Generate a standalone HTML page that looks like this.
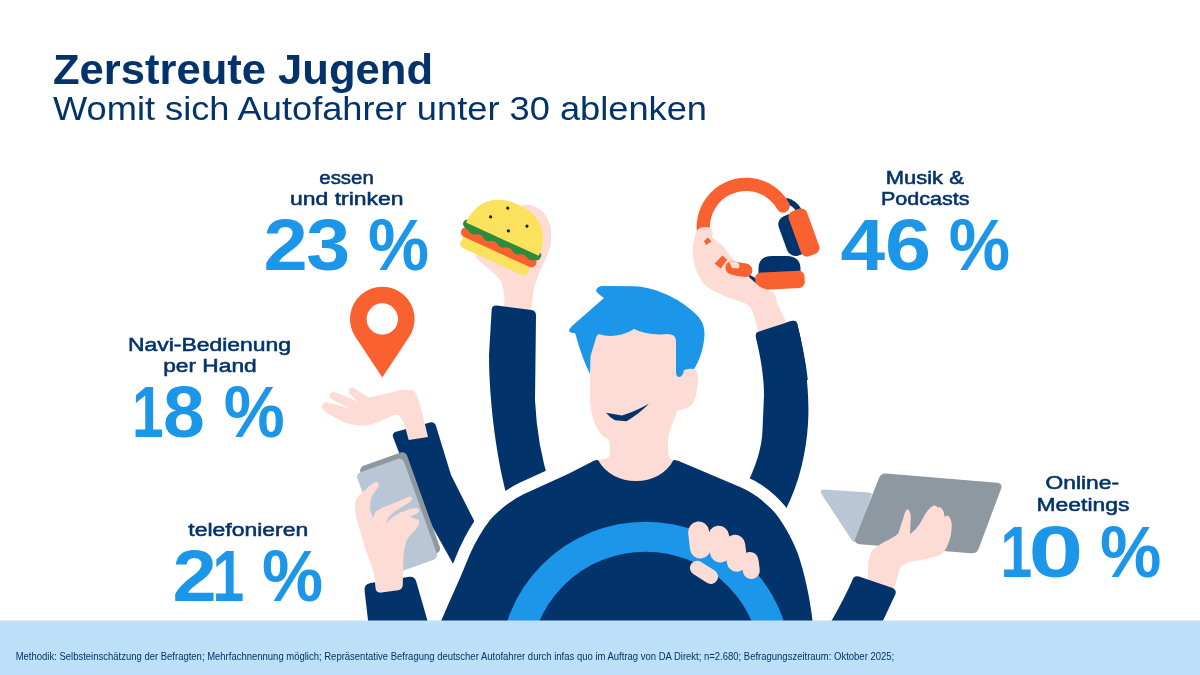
<!DOCTYPE html>
<html lang="de">
<head>
<meta charset="utf-8">
<title>Zerstreute Jugend</title>
<style>
  html, body { margin: 0; padding: 0; background: #ffffff; }
  body { width: 1200px; height: 675px; overflow: hidden; position: relative; font-family: "Liberation Sans", sans-serif; }
  svg { position: absolute; left: 0; top: 0; display: block; }
  text { font-family: "Liberation Sans", sans-serif; }
  .navy { fill: #02336a; }
  .blue { fill: #1c96e9; }
  .skin { fill: #fcdcd5; }
  .orange { fill: #f96230; }
  .t-title { font-weight: 700; font-size: 42px; fill: #02336a; }
  .t-sub { font-weight: 400; font-size: 33.5px; fill: #02336a; }
  .t-label { font-weight: 400; font-size: 18.8px; fill: #02336a; stroke: #02336a; stroke-width: 0.55px; }
  .t-num { font-weight: 700; font-size: 73px; fill: #1c96e9; }
  .t-foot { font-weight: 400; font-size: 10.4px; fill: #02336a; }
</style>
</head>
<body>
<svg width="1200" height="675" viewBox="0 0 1200 675">
  <rect x="0" y="0" width="1200" height="675" fill="#ffffff"/>

  <!-- ===== ILLUSTRATION ===== -->
  <g id="illustration">

    <!-- arms behind torso -->
    <!-- burger hand -->
    <path class="skin" d="M504,316 L504.5,300 Q504,284 498,277 L476,258 Q474,254 480,252 L500,230 L520,206 Q526,203 534,206 Q548,212 551,230 Q552,245 547,256 Q538,274 534,288 L530,316 Z"/>
    <!-- burger arm -->
    <path class="navy" d="M491.6,311 Q491.4,305 497,305.6 L531.5,310.1 Q536,310.8 536,315.5 L535,400 Q537,445 550,485 L508,500 C497,462 489,402 489,355 Z"/>
    <!-- headphone arm -->
    <path class="navy" d="M756,337.5 Q755,333 759,331.6 L791.5,321 Q796,319.8 797.3,324 C805,355 810,392 808,424 C806,455 798,490 780,520 L745,489 C756,466 762,448 762.5,430 L764,395 C764,375 760,355 756,337.5 Z"/>
    <!-- navi arm -->
    <path class="navy" d="M393,437 Q392,433 396,431.8 L430,422.4 Q434.5,421.5 436,426 L451,475 L500,572 L472,598 L432,526 L400,455 Z"/>
    <!-- phone arm -->
    <path class="navy" d="M364.6,591 Q363.8,584.2 370.5,583 L409.5,576.8 Q414.8,576.2 416.2,581.5 L427.3,620 L430,630 L369,630 L368,620 Z"/>

    <!-- torso with white outline -->
    <path d="M429,650 L441.5,620 L448,605 L460,578 L470,554 C476,541 482,530 490,520 C498,511 510,501 524,494 L568,474 L593,461.3 Q597.5,459 601,461 L670,461 Q674,459 678,460.8 L700,470 L740,487 C752,492 766,502 776,514 C786,527 794,543 798,554 C804,572 810,596 813,625 L814,650 Z"
          fill="#02336a" stroke="#ffffff" stroke-width="24" stroke-linejoin="round" paint-order="stroke"/>

    <!-- steering wheel -->
    <circle cx="645.5" cy="667.7" r="131" fill="none" stroke="#1c96e9" stroke-width="30"/>

    <!-- fist on wheel -->
    <g stroke="#fcdcd5" stroke-linecap="round" fill="none">
      <line x1="698.6" y1="532" x2="700.4" y2="548" stroke-width="21"/>
      <line x1="718.6" y1="536.3" x2="720.4" y2="552" stroke-width="21"/>
      <line x1="735" y1="545" x2="737" y2="561.5" stroke-width="20.5"/>
      <line x1="750" y1="560.5" x2="751.3" y2="570.5" stroke-width="17"/>
      <line x1="697.2" y1="568" x2="710.8" y2="576.7" stroke-width="14.5"/>
    </g>

    <!-- neck + face -->
    <path class="skin" d="M590,330 L590,396 C590,415 596,432 606,438 Q610,440 610,446 L609.8,455 Q609,459.5 598,460 C606,474 620,481 636,481 C652,481 666,474 673.5,460 Q668.5,459 668.2,454 L668,442 C668,432 672,425 677,412 L677,330 Z"/>
    <!-- ear -->
    <path class="skin" d="M676,374 Q684,366 692,368 Q699,371 698,381 L696,396 Q693,407 684,409 L676,411 Z"/>
    <!-- hair -->
    <path class="blue" d="M596,291 Q597,286 603,286 L634,286.3 C652,286.5 676,297 690,309 C700,317 704.5,323 704.5,334 C704,348 699,362 694,369 Q690,368 684,370 Q683,376 679.5,377 Q676,377 676,372 L676,340 Q675,334 668,334 Q648,336 634,329 Q627,333.8 616,335.6 Q606,336.6 599.5,334.3 Q597,334 596,338 L590.5,356 L590,374 Q582,358 576,336 L575,333 Q570,333 569,331 Q569,329 572,326 L604,298 Q598,294 596,291 Z"/>
    <!-- smile -->
    <path class="navy" d="M606,412.8 L622,415.6 Q638,410 649.2,403.4 Q640,413 626.5,421.2 L615,420.2 Q609.5,417.5 606,412.8 Z"/>

    <!-- burger -->
    <g transform="translate(502.4,239.2) rotate(24.5)">
      <path d="M-36,12 L37,12 L37,19.5 Q37,24.5 32,24.5 L-31,24.5 Q-37,24.5 -37,19.5 Z" fill="#fbe25c"/>
      <rect x="-41" y="3.5" width="82" height="10.5" rx="5.2" fill="#f96230"/>
      <path d="M-42.5,0.5 Q-42.5,-3.5 -39,-3.5 L39,-3.5 Q42.5,-3.5 42.5,0.5 Q42.5,5 38,5.5 Q34,9 30,6.5 Q26,4 22,6.5 Q18,9.5 14,6.5 Q10,4 6,6.5 Q2,9.5 -2,6.5 Q-6,4 -10,6.5 Q-14,9.5 -18,6.5 Q-22,4 -26,6.5 Q-30,9.5 -34,6.5 L-39,5 Q-42.5,4 -42.5,0.5 Z" fill="#2e8b3c"/>
      <path d="M-40,0 C-40,-24 -25,-38 0,-38 C25,-38 40,-24 40,0 Z" fill="#fbe25c"/>
      <circle cx="-8" cy="-30.5" r="1.55" fill="#1a1a1a"/>
      <circle cx="-20" cy="-15.5" r="1.55" fill="#1a1a1a"/>
      <circle cx="17" cy="-22" r="1.55" fill="#1a1a1a"/>
      <circle cx="2" cy="-10" r="1.55" fill="#1a1a1a"/>
    </g>

    <!-- headphones: thin navy connectors -->
    <path d="M786,200.5 Q795,203 799.5,211" fill="none" stroke="#02336a" stroke-width="5.5"/>
    <path d="M744,272 Q749,280.5 761,282.5" fill="none" stroke="#02336a" stroke-width="5.5"/>
    <!-- headband -->
    <path d="M783.1,206 A42.7,42.7 0 1 0 736,268.6 L745.6,270.4" fill="none" stroke="#f96230" stroke-width="13.3" stroke-linecap="round"/>
    <!-- right cup -->
    <g transform="translate(793.3,235) rotate(-20)">
      <rect x="-11" y="-21" width="22" height="42" rx="9" fill="#02336a"/>
    </g>
    <g transform="translate(804,232.5) rotate(-20)">
      <rect x="-9.7" y="-24" width="19.4" height="48" rx="6.5" fill="#f96230"/>
    </g>
    <!-- lower cup -->
    <path d="M758.5,274 L758.5,268 Q759,256 772,256 L787,256 Q800,256.5 800.5,268 L800.5,274 Z" fill="#02336a"/>
    <g transform="translate(780,280.3) rotate(-3)">
      <rect x="-24.7" y="-8.7" width="49.4" height="17.4" rx="6" fill="#f96230"/>
    </g>
    <!-- headphone hand + forearm -->
    <path class="skin" d="M700,228 Q705,226 711,228 Q714,231 712,237 L724,247 L730,256 L739,264 L750,278 L760,287 L773,292 Q776,296 777,303 L788,326 L760,336 L752,310 Q748,304 744,303 L724,296 Q710,290 704,284 Q696,274 694,262 Q691,248 695,236 Q696,230 700,228 Z"/>
    <path class="orange" d="M704,241 L708,237.5 L711.5,241.5 L706,245 Z"/>
    <path d="M718.5,259.5 A42.7,42.7 0 0 0 724,264" fill="none" stroke="#f96230" stroke-width="11"/>
    <path d="M732,267.8 Q738,270 745.6,270.4" fill="none" stroke="#f96230" stroke-width="13.3" stroke-linecap="round"/>
    <path class="skin" d="M729,261.5 L737,261.5 Q741,265 738.5,268.5 L732,268 Z"/>

    <!-- headphone sleeve cap (over wrist) -->
    <path class="navy" d="M756,337.5 Q755,333 759,331.6 L791.5,321 Q796,319.8 797.3,324 C802,343 806,362 807.8,380 L764,380 C763,365 760,352 756,337.5 Z"/>

    <!-- pin -->
    <path class="orange" fill-rule="evenodd" d="M382.3,377.5 L355.5,337 A32.3,32.3 0 1 1 409.1,337 Z M398,319 A15.7,15.7 0 1 0 366.6,319 A15.7,15.7 0 1 0 398,319 Z"/>

    <!-- navi hand -->
    <path class="skin" d="M408.7,440 L406,430 Q404,420 398,414.7 Q394,415 390,416.7 L376.7,422.7 Q368,426 360.7,425.3 Q350,425 343.3,422 L327,413 Q320.5,408.5 322.5,404.5 Q325,401 330,403 L350.5,408.5 L333,400 Q328.5,397 330,394 Q332,391 336,392.5 L357.5,401.5 L349.5,393.5 Q347.5,389.5 350.5,388 Q353.5,387 356,389.5 L369,397.5 L384.7,394 L400.7,390 L411.3,390 Q415.3,391 417,396 L420.7,407.3 L424.7,423.3 L428,437 Z"/>

    <!-- phone -->
    <g transform="translate(399.1,506.7) rotate(-19.7)">
      <rect x="-24.75" y="-50.5" width="49.5" height="107" rx="5" fill="#8d98a1"/>
    </g>
    <g transform="translate(396.1,513.1) rotate(-19.7)">
      <rect x="-24.75" y="-50.5" width="49.5" height="107" rx="5" fill="#b9c6d5"/>
    </g>
    <!-- phone hand -->
    <path class="skin" d="M375.5,588 L374,573 L364.7,546.7 L357.5,522 Q354.5,510 355,504 Q356,497 362,492.7 L368.7,486.7 L374,482.7 Q377,481 378.6,483.5 Q379.6,486 376.7,489.3 L372,496 Q369.5,502 370,509.3 L372.7,518 L376,511.3 L383.3,507.3 L396.7,502 L408.7,496.7 Q411.8,496 412,498.7 Q412,500.5 410,502 L404.7,505.3 L410,508.7 L416.7,508 Q419.5,508.5 419,511 Q418.7,512.5 416,514 L410,516.7 L415.3,518.7 Q419.5,519.5 419.3,522 Q419,526 415.3,530 Q408,537 406,542 Q403.5,550 403.3,560 L402.8,585 Q402.5,589.5 398,590.3 L381.5,592.6 Q376,593.2 375.5,588 Z"/>
    <path d="M406,504.5 L394,512 L388.7,517.3 L385.7,523.5 L390.5,518.7 L399.3,513 L410.5,508.8 Z" fill="#b9c6d5"/>

    <!-- laptop -->
    <path d="M824,489.5 L869,492.5 L872,494 L856,541 Q854,543 852,540.5 L821.5,494 Q819.5,489.5 824,489.5 Z" fill="#b9c6d5"/>
    <path d="M886,473.5 L997,482.8 Q1003,483.5 1001,489 L978.5,549 Q976.5,553.8 971,553.3 L860,544.2 Q853.5,543.5 855.5,538 L879,478 Q881,473 886,473.5 Z" fill="#8d98a1"/>
    <!-- laptop hand -->
    <path class="skin" d="M867.5,580 L868.3,563.3 Q869,553 874,548.5 L884,542 Q895,537 898.3,533.3 L903.3,518.3 Q905,510 907.5,509.2 Q910,509.5 910.8,516.7 L910,534.2 Q918,528 922,520 Q928,508 933.3,505.8 Q936,505 937.5,507.5 Q939.5,506.5 941,508 Q944,510 944.5,517 Q947,514.5 949.2,516.7 Q952,520 951.7,526.7 Q951.5,536 948.3,543.3 Q946,551 940,555 Q928,559.5 910,561.7 Q903,564 900,568.3 L893,592 L866.5,588 Z"/>
    <!-- laptop arm (sleeve over wrist) -->
    <path class="navy" d="M852,581 Q853.5,574.8 859,576.6 L892,587.8 Q897.2,589.8 895.3,594.6 L883.3,620 L879,630 L826,630 L832,620 Q845,597 852,581 Z"/>
  </g>

  <!-- ===== FOOTER ===== -->
  <rect x="0" y="620.5" width="1200" height="54.5" fill="#bde0f8"/>
  <text class="t-foot" x="15.7" y="660" textLength="878.5" lengthAdjust="spacingAndGlyphs">Methodik: Selbsteinschätzung der Befragten; Mehrfachnennung möglich; Repräsentative Befragung deutscher Autofahrer durch infas quo im Auftrag von DA Direkt; n=2.680; Befragungszeitraum: Oktober 2025;</text>

  <!-- ===== TITLES ===== -->
  <text class="t-title" x="53" y="84" textLength="380" lengthAdjust="spacingAndGlyphs">Zerstreute Jugend</text>
  <text class="t-sub" x="53" y="120" textLength="654" lengthAdjust="spacingAndGlyphs">Womit sich Autofahrer unter 30 ablenken</text>

  <!-- ===== STATS ===== -->
  <text class="t-label" x="319.3" y="183.6" textLength="54.5" lengthAdjust="spacingAndGlyphs">essen</text>
  <text class="t-label" x="290" y="205" textLength="113.5" lengthAdjust="spacingAndGlyphs">und trinken</text>
  <text class="t-num" y="269.7"><tspan x="263.4" textLength="44.2" lengthAdjust="spacingAndGlyphs">2</tspan><tspan x="306.2" textLength="43.9" lengthAdjust="spacingAndGlyphs">3</tspan><tspan x="357.9" textLength="10" lengthAdjust="spacingAndGlyphs"> </tspan><tspan x="367.9" textLength="61.1" lengthAdjust="spacingAndGlyphs">%</tspan></text>

  <text class="t-label" x="885.8" y="183.6" textLength="78" lengthAdjust="spacingAndGlyphs">Musik &amp;</text>
  <text class="t-label" x="881" y="205" textLength="88.5" lengthAdjust="spacingAndGlyphs">Podcasts</text>
  <text class="t-num" y="269.7"><tspan x="840.6" textLength="44.7" lengthAdjust="spacingAndGlyphs">4</tspan><tspan x="885.0" textLength="46.1" lengthAdjust="spacingAndGlyphs">6</tspan><tspan x="938.8" textLength="10" lengthAdjust="spacingAndGlyphs"> </tspan><tspan x="948.8" textLength="61.4" lengthAdjust="spacingAndGlyphs">%</tspan></text>

  <text class="t-label" x="128" y="350.8" textLength="163" lengthAdjust="spacingAndGlyphs">Navi-Bedienung</text>
  <text class="t-label" x="163.2" y="372.1" textLength="93.5" lengthAdjust="spacingAndGlyphs">per Hand</text>
  <text class="t-num" y="436.6"><tspan x="132.0" textLength="31.7" lengthAdjust="spacingAndGlyphs">1</tspan><tspan x="163.0" textLength="41.8" lengthAdjust="spacingAndGlyphs">8</tspan><tspan x="213.7" textLength="10" lengthAdjust="spacingAndGlyphs"> </tspan><tspan x="223.7" textLength="61.0" lengthAdjust="spacingAndGlyphs">%</tspan></text>

  <text class="t-label" x="188.3" y="536" textLength="120" lengthAdjust="spacingAndGlyphs">telefonieren</text>
  <text class="t-num" y="600.9"><tspan x="172.5" textLength="44.2" lengthAdjust="spacingAndGlyphs">2</tspan><tspan x="212.4" textLength="31.7" lengthAdjust="spacingAndGlyphs">1</tspan><tspan x="251.9" textLength="10" lengthAdjust="spacingAndGlyphs"> </tspan><tspan x="261.9" textLength="61.1" lengthAdjust="spacingAndGlyphs">%</tspan></text>

  <text class="t-label" x="1045.5" y="489.3" textLength="73.5" lengthAdjust="spacingAndGlyphs">Online-</text>
  <text class="t-label" x="1036.5" y="510.7" textLength="93" lengthAdjust="spacingAndGlyphs">Meetings</text>
  <text class="t-num" y="576.5"><tspan x="1000.4" textLength="31.7" lengthAdjust="spacingAndGlyphs">1</tspan><tspan x="1028.6" textLength="54.8" lengthAdjust="spacingAndGlyphs">0</tspan><tspan x="1090.1" textLength="10" lengthAdjust="spacingAndGlyphs"> </tspan><tspan x="1100.1" textLength="61.4" lengthAdjust="spacingAndGlyphs">%</tspan></text>
</svg>
</body>
</html>
